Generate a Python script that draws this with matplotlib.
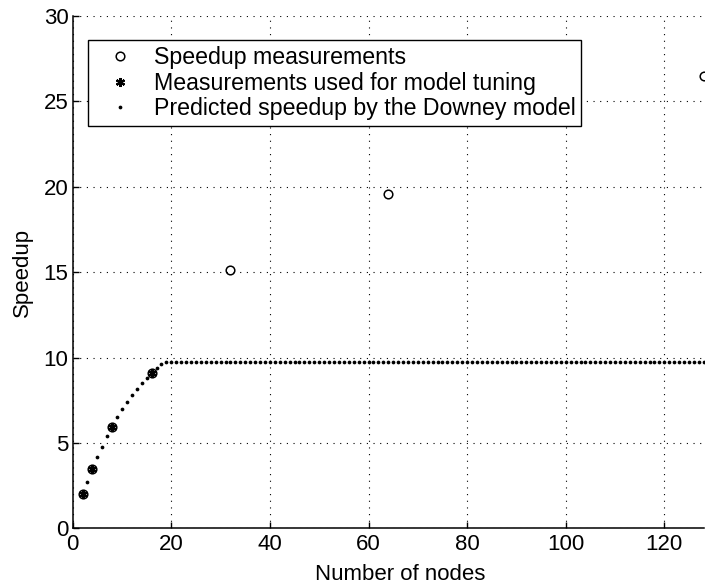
import matplotlib
matplotlib.use('Agg')
from matplotlib import pyplot as plt

plt.rcParams['font.family'] = ['Liberation Sans', 'DejaVu Sans']

# measured speedup
nodes_measured = [2, 4, 8, 16, 32, 64, 128]
speedup_measured = [2.0, 3.5, 5.95, 9.1, 15.15, 19.6, 26.5]

# points used to fit the model
nodes_tuning = [2, 4, 8, 16]
speedup_tuning = [2.0, 3.5, 5.95, 9.1]

# Downey model prediction, one value per node count
nodes_model = list(range(2, 129))
speedup_model = [1.95, 2.74, 3.5, 4.17, 4.77, 5.42, 6.0, 6.55, 7.0, 7.41,
                 7.8, 8.15, 8.5, 8.83, 9.13, 9.38, 9.63] + [9.77] * 110

fs = 16

fig = plt.figure(figsize=(7.05, 5.85), dpi=100)
ax = fig.add_axes([0.1031, 0.0966, 0.8952, 0.876])

ax.plot(nodes_measured, speedup_measured, 'o', ms=6.2, mfc='none', mec='black', mew=1.1,
        label='Speedup measurements')
ax.plot(nodes_tuning, speedup_tuning, ls='none', marker=(6, 2, 0), ms=6.5, mec='black', mew=1.6,
        label='Measurements used for model tuning')
ax.plot(nodes_model, speedup_model, 'o', ms=2.7, mfc='black', mew=0,
        label='Predicted speedup by the Downey model')

ax.set_xlim(0, 128)
ax.set_ylim(0, 30)
ax.set_xticks([0, 20, 40, 60, 80, 100, 120])
ax.set_yticks([0, 5, 10, 15, 20, 25, 30])
ax.grid(True, color='black', linewidth=0.8, linestyle=(0, (1, 5)))
ax.set_axisbelow(True)

for s in ['top', 'right']:
    ax.spines[s].set_visible(False)
for s in ['left', 'bottom']:
    ax.spines[s].set_linewidth(1.1)

ax.tick_params(direction='in', length=4.5, width=1.0, labelsize=fs)
ax.tick_params(axis='x', pad=4)
ax.tick_params(axis='y', pad=3)

ax.set_xlabel('Number of nodes', fontsize=fs)
ax.set_ylabel('Speedup', fontsize=fs)
ax.xaxis.set_label_coords(0.519, -0.07)
ax.yaxis.set_label_coords(-0.063, 0.5)

leg = ax.legend(loc='upper left', bbox_to_anchor=(0.0247, 0.953), borderaxespad=0,
                fontsize=16.7, numpoints=1, fancybox=False, framealpha=1,
                edgecolor='black', borderpad=0.25, handlelength=2.24,
                handletextpad=0.34, labelspacing=0.12)
leg.get_frame().set_linewidth(1.0)

plt.savefig('out.png', dpi=100)
